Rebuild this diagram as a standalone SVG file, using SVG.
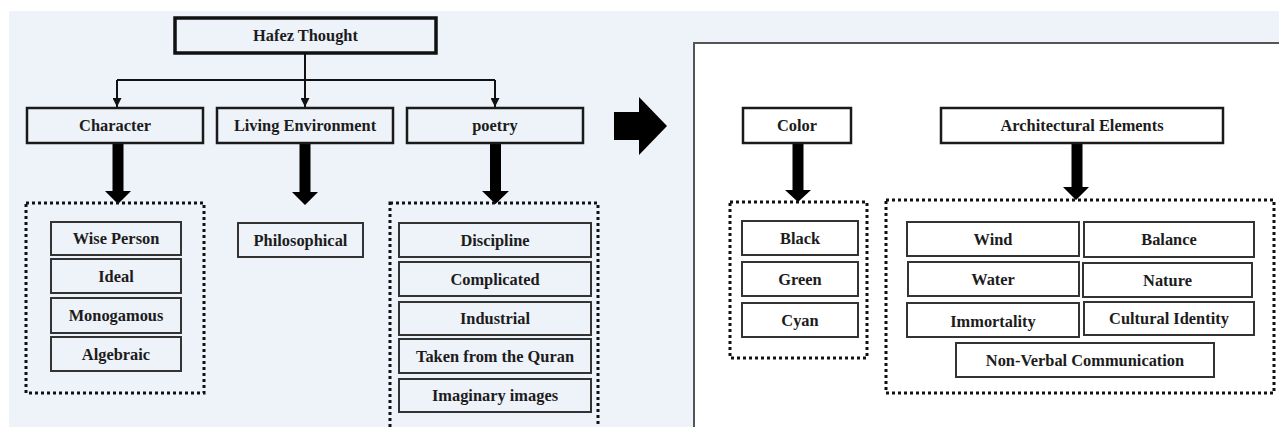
<svg xmlns="http://www.w3.org/2000/svg" width="1279" height="427" viewBox="0 0 1279 427">
<style>
.t{font-family:"Liberation Serif","Times New Roman",serif;font-weight:bold;font-size:16.4px;fill:#1c1c1c;text-anchor:middle}
.top{fill:#eef2f9;stroke:#111;stroke-width:3.5}
.cat{fill:#eef2f9;stroke:#1a1a1a;stroke-width:2.5}
.catw{fill:#fff;stroke:#1a1a1a;stroke-width:2.5}
.item{fill:#eef2f9;stroke:#333;stroke-width:2}
.itemw{fill:#fff;stroke:#333;stroke-width:2}
.dot{fill:none;stroke:#111;stroke-width:3;stroke-dasharray:3 3}
.ln{fill:none;stroke:#111;stroke-width:2}
.ah{fill:#000}
</style>
<defs>
<marker id="tri" viewBox="0 0 10 10" refX="10" refY="5" markerWidth="4.5" markerHeight="4.5" markerUnits="strokeWidth" orient="auto">
<path d="M0,0 L10,5 L0,10 z" fill="#111"/>
</marker>
</defs>
<rect x="0" y="0" width="1279" height="427" fill="#ffffff"/>
<rect x="9" y="11" width="1270" height="416" fill="#eef2f9"/>
<rect x="694" y="43" width="600" height="400" fill="#ffffff" stroke="#555" stroke-width="2"/>

<g id="connectors">
<path class="ln" d="M305,53 V107"/>
<path class="ln" d="M117,80 H495"/>
<path class="ln" d="M117,80 V107" marker-end="url(#tri)"/>
<path class="ln" d="M305,80 V107" marker-end="url(#tri)"/>
<path class="ln" d="M495,80 V107" marker-end="url(#tri)"/>
<path class="ah" d="M112.5,143 H123.5 V191 H131 L118,204 L105,191 H112.5 Z"/>
<path class="ah" d="M299.5,144 H310.5 V192 H318 L305,205 L292,192 H299.5 Z"/>
<path class="ah" d="M490,144 H501 V191 H509 L495.5,204 L482,191 H490 Z"/>
<path class="ah" d="M792.5,143 H803.5 V190 H811 L798,202 L785,190 H792.5 Z"/>
<path class="ah" d="M1071.5,140 H1082.5 V187 H1089 L1076,200 L1063,187 H1071.5 Z"/>
<path class="ah" d="M614,112 H639 V97 L667,126 L639,155 V140 H614 Z"/>
</g>

<g id="hafez"><rect class="top" x="175" y="18" width="261" height="35"/><text class="t" x="305.5" y="41">Hafez Thought</text></g>
<g id="character"><rect class="cat" x="27" y="108" width="176" height="35"/><text class="t" x="115" y="131">Character</text></g>
<g id="living"><rect class="cat" x="217" y="108" width="176" height="35"/><text class="t" x="305" y="131">Living Environment</text></g>
<g id="poetry"><rect class="cat" x="407" y="108" width="176" height="35"/><text class="t" x="495" y="131">poetry</text></g>

<g id="character-group"><rect class="dot" x="26" y="203" width="178" height="190"/></g>
<g id="wise"><rect class="item" x="51" y="222" width="130" height="33"/><text class="t" x="116" y="244">Wise Person</text></g>
<g id="ideal"><rect class="item" x="51" y="259" width="130" height="34"/><text class="t" x="116" y="282">Ideal</text></g>
<g id="monogamous"><rect class="item" x="51" y="298" width="130" height="35"/><text class="t" x="116" y="321">Monogamous</text></g>
<g id="algebraic"><rect class="item" x="51" y="337" width="130" height="34"/><text class="t" x="116" y="360">Algebraic</text></g>

<g id="philosophical"><rect class="item" x="238" y="223" width="125" height="34"/><text class="t" x="300.5" y="246">Philosophical</text></g>

<g id="poetry-group"><rect class="dot" x="390" y="203" width="208" height="240"/></g>
<g id="discipline"><rect class="item" x="399" y="223" width="192" height="34"/><text class="t" x="495" y="246">Discipline</text></g>
<g id="complicated"><rect class="item" x="399" y="262" width="192" height="34"/><text class="t" x="495" y="285">Complicated</text></g>
<g id="industrial"><rect class="item" x="399" y="302" width="192" height="33"/><text class="t" x="495" y="324">Industrial</text></g>
<g id="quran"><rect class="item" x="399" y="339" width="192" height="34"/><text class="t" x="495" y="362">Taken from the Quran</text></g>
<g id="imaginary"><rect class="item" x="399" y="379" width="192" height="33"/><text class="t" x="495" y="401">Imaginary images</text></g>

<g id="color"><rect class="catw" x="743" y="108" width="108" height="35"/><text class="t" x="797" y="131">Color</text></g>
<g id="arch"><rect class="catw" x="941" y="108" width="282" height="35"/><text class="t" x="1082" y="131">Architectural Elements</text></g>

<g id="color-group"><rect class="dot" x="730" y="202" width="137" height="156"/></g>
<g id="black"><rect class="itemw" x="742" y="221" width="116" height="34"/><text class="t" x="800" y="244">Black</text></g>
<g id="green"><rect class="itemw" x="742" y="262" width="116" height="34"/><text class="t" x="800" y="285">Green</text></g>
<g id="cyan"><rect class="itemw" x="742" y="303" width="116" height="34"/><text class="t" x="800" y="326">Cyan</text></g>

<g id="arch-group"><rect class="dot" x="886" y="200" width="388" height="193"/></g>
<g id="wind"><rect class="itemw" x="907" y="222" width="172" height="34"/><text class="t" x="993" y="245">Wind</text></g>
<g id="balance"><rect class="itemw" x="1084" y="222" width="170" height="35"/><text class="t" x="1169" y="245">Balance</text></g>
<g id="water"><rect class="itemw" x="908" y="262" width="171" height="34"/><text class="t" x="993" y="285">Water</text></g>
<g id="nature"><rect class="itemw" x="1083" y="263" width="169" height="34"/><text class="t" x="1167.5" y="286">Nature</text></g>
<g id="immortality"><rect class="itemw" x="907" y="303" width="172" height="34"/><text class="t" x="993" y="327">Immortality</text></g>
<g id="cultural"><rect class="itemw" x="1084" y="302" width="170" height="33"/><text class="t" x="1169" y="324">Cultural Identity</text></g>
<g id="nonverbal"><rect class="itemw" x="956" y="343" width="258" height="34"/><text class="t" x="1085" y="366">Non-Verbal Communication</text></g>
</svg>
